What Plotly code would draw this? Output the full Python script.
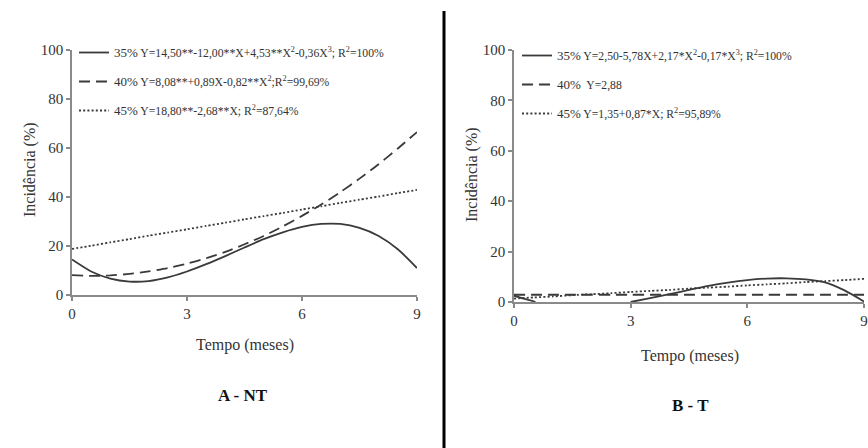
import plotly.graph_objects as go

# ---------------- data ----------------
meses = [0, 0.5, 1, 1.5, 2, 2.5, 3, 3.5, 4, 4.5, 5, 5.5, 6, 6.5, 7, 7.5, 8, 8.5, 9]

# A - NT
nt_35 = [14.5, 9.6, 6.7, 5.5, 5.7, 7.2, 9.6, 12.6, 15.9, 19.4, 22.8, 25.6, 27.8, 29.0, 29.0, 27.4, 24.1, 18.7, 11.0]
nt_40 = [8.1, 7.8, 8.0, 8.6, 9.6, 11.0, 12.8, 15.0, 17.6, 20.7, 24.1, 28.0, 32.3, 36.9, 42.0, 47.5, 53.4, 59.8, 66.5]
nt_45 = [18.8, 20.1, 21.5, 22.8, 24.2, 25.5, 26.8, 28.2, 29.5, 30.9, 32.2, 33.5, 34.9, 36.2, 37.6, 38.9, 40.2, 41.6, 42.9]

# B - T
t_35_x = [0, 0.25, 0.5, 0.55, None, 3, 3.5, 4, 4.5, 5, 5.5, 6, 6.5, 7, 7.5, 8, 8.5, 9]
t_35 = [2.5, 1.3, 0.3, 0.0, None, 0.0, 1.5, 3.1, 4.8, 6.4, 7.7, 8.7, 9.3, 9.4, 9.0, 7.8, 4.6, 0.2]
t_40 = [2.88] * len(meses)
t_45 = [1.35, 1.8, 2.2, 2.7, 3.1, 3.5, 4.0, 4.4, 4.8, 5.3, 5.7, 6.1, 6.6, 7.0, 7.4, 7.9, 8.3, 8.7, 9.2]

x_ticks = [0, 3, 6, 9]
y_ticks = [0, 20, 40, 60, 80, 100]

P = "<span style='font-size:13px'>%s</span> "
leg_nt = [
    P % "35%" + "Y=14,50**-12,00**X+4,53**X<sup>2</sup>-0,36X<sup>3</sup>; R<sup>2</sup>=100%",
    P % "40%" + "Y=8,08**+0,89X-0,82**X<sup>2</sup>;R<sup>2</sup>=99,69%",
    P % "45%" + "Y=18,80**-2,68**X; R<sup>2</sup>=87,64%",
]
leg_t = [
    P % "35%" + "Y=2,50-5,78X+2,17*X<sup>2</sup>-0,17*X<sup>3</sup>; R<sup>2</sup>=100%",
    P % "40%" + " Y=2,88",
    P % "45%" + "Y=1,35+0,87*X; R<sup>2</sup>=95,89%",
]

# ---------------- styling ----------------
W, H = 868, 448
SERIF = "Liberation Serif, Times New Roman, serif"
LINE = "#3a3a3a"
AXIS = "#8a8a8a"
dash_long = "11px,6px"
dot = "2px,2.2px"

fig = go.Figure()

def add(x, y, name, dash, xa, ya, legend, group):
    fig.add_trace(go.Scatter(
        x=x, y=y, mode="lines", name=name,
        line=dict(color=LINE, width=1.8, dash=dash, shape="spline", smoothing=0.6),
        xaxis=xa, yaxis=ya, legend=legend, legendgroup=group, connectgaps=False, hoverinfo="skip"))

add(meses, nt_35, leg_nt[0], "solid", "x", "y", "legend", "a1")
add(meses, nt_40, leg_nt[1], dash_long, "x", "y", "legend", "a2")
add(meses, nt_45, leg_nt[2], dot, "x", "y", "legend", "a3")
add(t_35_x, t_35, leg_t[0], "solid", "x2", "y2", "legend2", "b1")
add(meses, t_40, leg_t[1], dash_long, "x2", "y2", "legend2", "b2")
add(meses, t_45, leg_t[2], dot, "x2", "y2", "legend2", "b3")

def px_x(p):
    return p / W

def px_y(p):
    return 1 - p / H

axis_common = dict(
    showgrid=False, zeroline=False, showline=True, linecolor=AXIS, linewidth=1.5,
    ticks="outside", ticklen=4, tickcolor=AXIS, tickwidth=1.5, automargin=False,
    tickfont=dict(family=SERIF, size=15, color="#333"),
)

leg_common = dict(xanchor="left", yanchor="top", bgcolor="rgba(0,0,0,0)",
                  font=dict(family=SERIF, size=11.7, color="#333"), tracegroupgap=10,
                  itemwidth=30, traceorder="grouped")

fig.update_layout(
    width=W, height=H,
    margin=dict(l=0, r=0, t=0, b=0, autoexpand=False),
    paper_bgcolor="white", plot_bgcolor="white",
    font=dict(family=SERIF, color="#333"),
    xaxis=dict(domain=[px_x(72), px_x(417)], range=[0, 9], tickvals=x_ticks, anchor="y", **axis_common),
    yaxis=dict(domain=[px_y(295), px_y(50)], range=[0, 100], tickvals=y_ticks, anchor="x", **axis_common),
    xaxis2=dict(domain=[px_x(514), px_x(864)], range=[0, 9], tickvals=x_ticks, anchor="y2", **axis_common),
    yaxis2=dict(domain=[px_y(302), px_y(50)], range=[0, 100], tickvals=y_ticks, anchor="x2", **axis_common),
    legend=dict(x=px_x(74), y=px_y(38), **leg_common),
    legend2=dict(x=px_x(517), y=px_y(41), **leg_common),
    showlegend=True,
)

ann = [
    dict(text="Incidência (%)", x=px_x(30), y=px_y(170), textangle=-90, font=dict(size=16)),
    dict(text="Incidência (%)", x=px_x(472), y=px_y(175), textangle=-90, font=dict(size=16)),
    dict(text="Tempo (meses)", x=px_x(245), y=px_y(345), font=dict(size=16)),
    dict(text="Tempo (meses)", x=px_x(690), y=px_y(356), font=dict(size=16)),
    dict(text="<b>A - NT</b>", x=px_x(243), y=px_y(395), font=dict(size=17, color="#111")),
    dict(text="<b>B - T</b>", x=px_x(690), y=px_y(405), font=dict(size=17, color="#111")),
]
for a in ann:
    fig.add_annotation(xref="paper", yref="paper", showarrow=False, xanchor="center", yanchor="middle",
                       font_family=SERIF, **a)

fig.add_shape(type="line", xref="paper", yref="paper", x0=px_x(444), x1=px_x(444), y0=0, y1=px_y(11),
              line=dict(color="black", width=3))

fig.write_html("out.html", config={"displayModeBar": False},
               post_script="document.body.style.margin='0';")
